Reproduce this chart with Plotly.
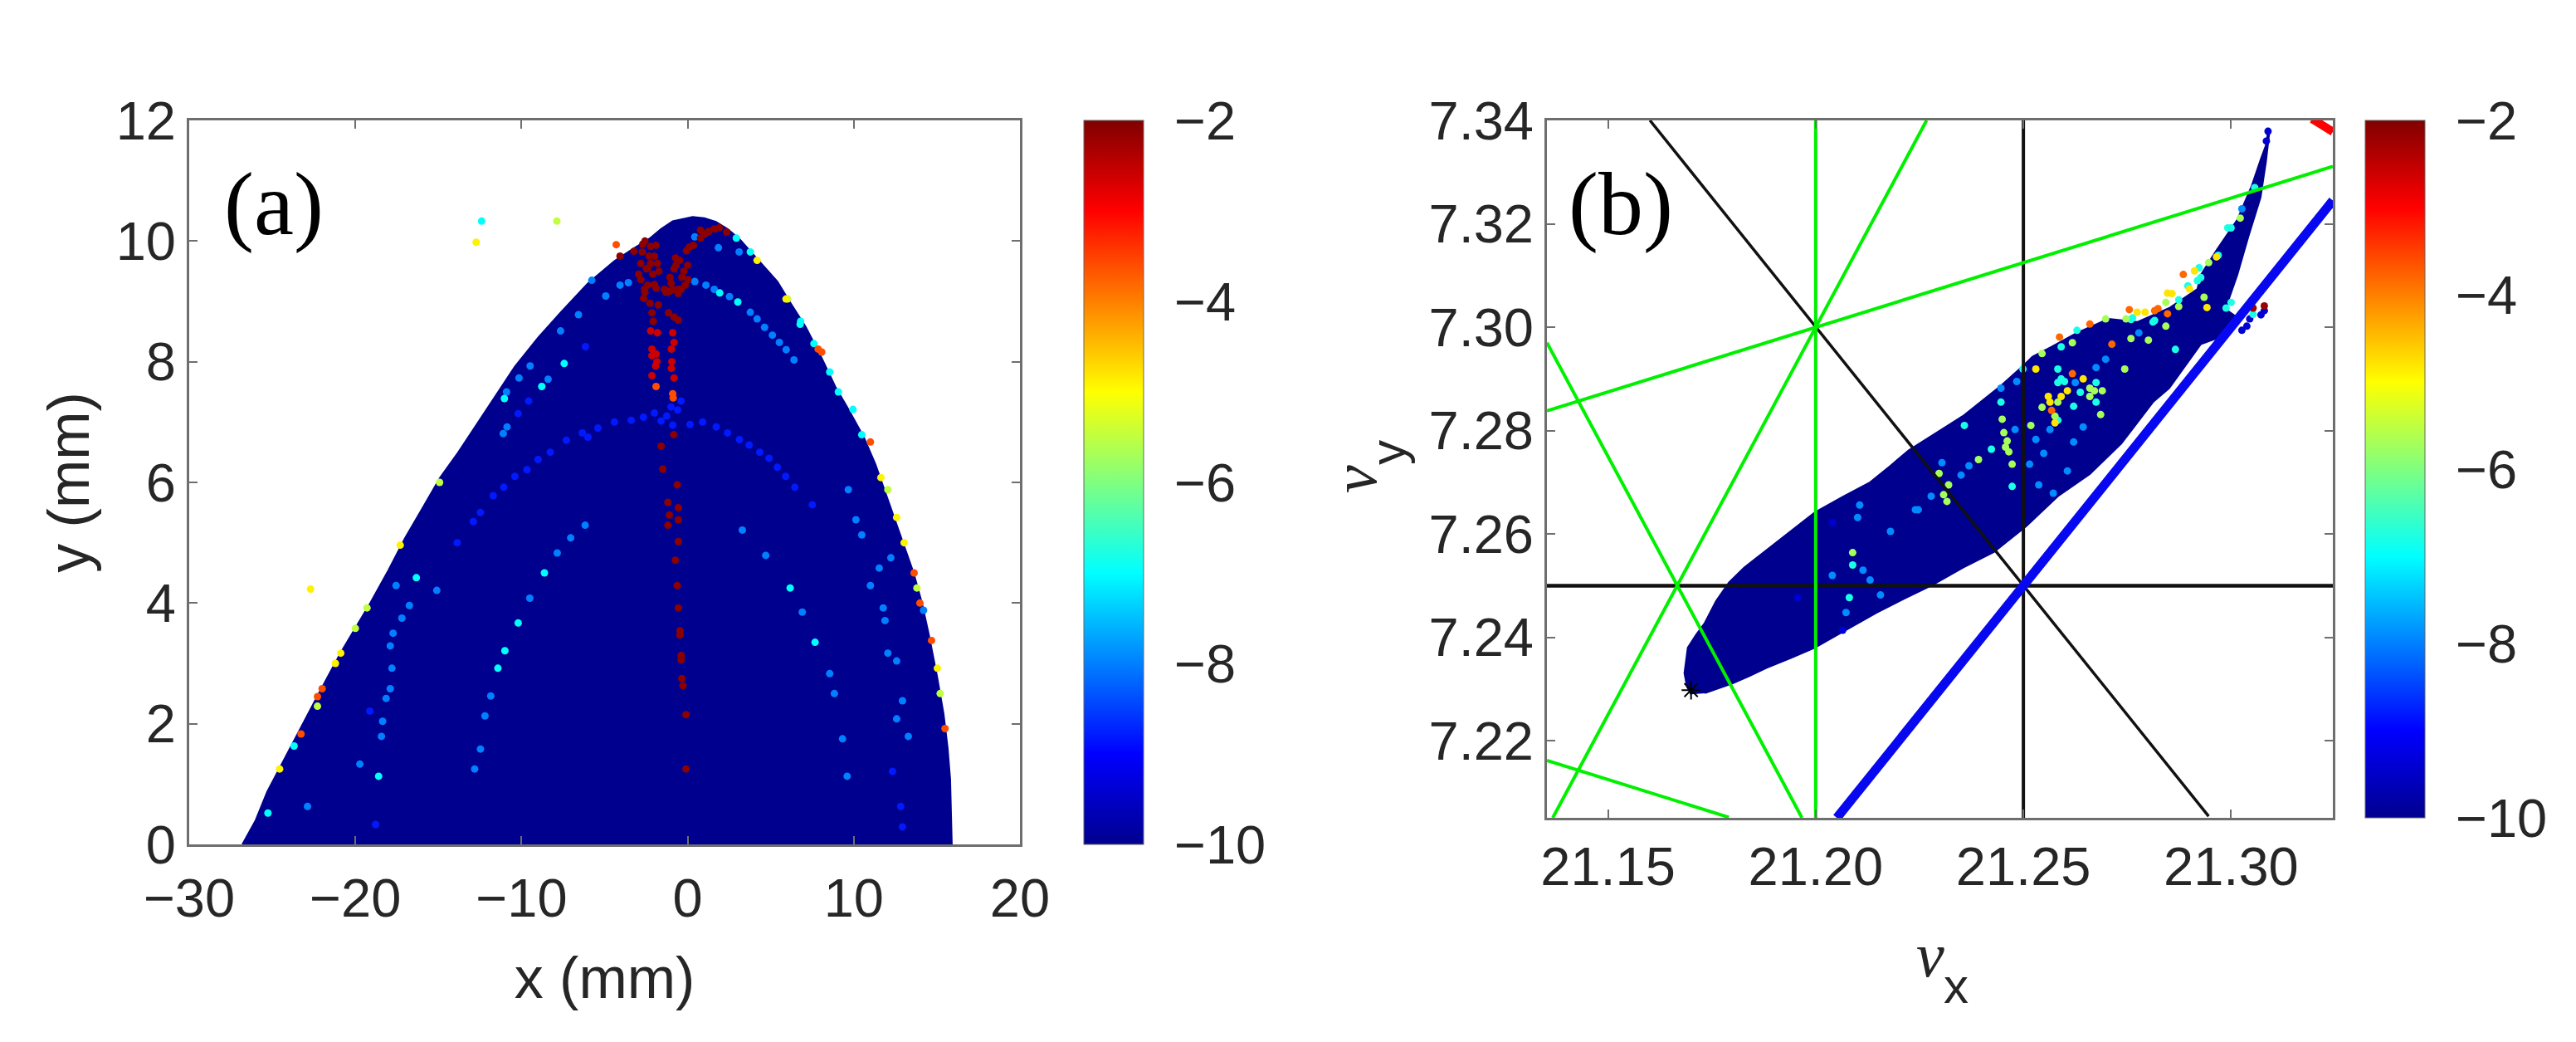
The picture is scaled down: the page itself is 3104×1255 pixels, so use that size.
import plotly.graph_objects as go

# ---- panel (a): outline of the dense dark-blue region (x mm, y mm)
a_outline_x = [-26.8,-26.0,-25.3,-24.4,-23.5,-22.2,-20.9,-20.0,-19.1,-18.0,-17.0,-15.9,-14.9,-13.8,-12.8,-11.6,-10.4,-9.0,-7.6,-6.0,-4.4,-3.3,-2.3,-1.6,-0.9,0.3,1.0,1.7,2.4,3.1,4.2,5.4,6.2,7.1,8.0,8.9,9.7,10.6,11.3,12.0,12.8,13.6,14.1,14.5,15.0,15.4,15.65,15.8,15.9,15.9,-26.9]
a_outline_y = [0,0.4,0.875,1.35,1.83,2.5,3.17,3.58,4.0,4.55,5.08,5.6,6.08,6.5,6.92,7.42,7.92,8.4,8.83,9.3,9.67,9.87,10.04,10.2,10.33,10.4,10.38,10.32,10.2,10.04,9.7,9.33,8.97,8.58,8.1,7.58,7.2,6.75,6.3,5.75,5.15,4.5,4.0,3.5,2.8,2.17,1.6,1.08,0,-0.05,-0.05]

# panel (a): points by colour level
a_dkred_v = -2.1
a_dkred_x = [-0.1,-0.1,-0.28,-0.35,-0.39,-0.39,-0.46,-0.46,-0.56,-0.63,-0.74,-0.56,-1.19,-0.56,-1.1,-0.56,-1.19,-0.63,-1.5,-1.6,-0.84,
             -2.57,-2.23,-1.9,-2.73,-2.32,-2.82,-2.23,-1.82,-1.73,-2.48,-2.82,-2.4,-1.9,-2.57,-1.07,-0.57,-0.15,0.02,-0.23,-0.48,-0.82,-1.07,-0.73,-0.07,0.35,0.77,1.27,1.6,2.35,0.77,-3.23,-4.07,
             -2.07,-2.15,-2.27,-1.77,-1.15,-0.82,-0.57,-2.6,-2.1,-1.4,-0.9,-0.4,0.0,-2.7,-2.0,-1.0,-2.95,-2.4,-2.0,-2.65,-1.3,-0.7,-0.35,-0.55,0.1,1.05,1.9]
a_dkred_y = [1.25,2.15,2.63,2.75,3.13,3.06,3.54,3.47,3.92,4.29,4.71,5.02,5.29,5.38,5.46,5.58,5.67,5.96,6.22,6.6,6.79,
             10.0,9.91,9.93,9.82,9.75,9.63,9.63,9.63,9.5,9.54,9.36,9.27,9.22,9.15,9.17,9.13,9.27,9.36,9.5,9.68,9.54,9.4,9.72,9.84,9.93,10.05,10.16,10.2,10.15,10.18,9.83,9.75,
             8.67,8.81,8.97,8.94,8.81,8.74,8.69,9.2,9.45,9.2,9.2,9.2,9.6,9.95,9.28,9.3,9.45,9.55,9.75,9.05,9.15,9.6,9.4,9.2,9.9,10.12,10.22]
a_red_v = -2.6
a_red_x = [-2.23,-1.82,-0.9,-0.82,-2.15,-1.9,-2.15,-0.98,-1.93,-0.98,-0.82,-2.15,-1.85,-0.95]
a_red_y = [8.51,8.48,8.48,8.32,8.21,8.13,8.1,8.21,7.93,7.89,7.73,7.77,8.0,8.0]
a_orange_v = -3.6
a_orange_x = [-1.9,-0.9,-0.87,-4.3,8.07,7.85,11.0,13.63,13.98,14.68,15.49,-23.27,-22.0,-22.28]
a_orange_y = [7.59,7.47,7.4,9.94,8.16,8.21,6.67,4.5,4.0,3.38,1.92,1.83,2.58,2.45]
a_yellow_v = -4.9
a_yellow_x = [-12.73,-22.7,4.18,5.92,11.63,12.58,13.03,15.03,-24.56,-20.88,-17.3,-21.2]
a_yellow_y = [9.98,4.23,9.68,9.04,6.08,5.42,5.0,2.92,1.25,3.17,4.96,3.0]
a_green_v = -5.5
a_green_x = [-7.87,6.02,12.05,13.8,15.2,-22.28,-20.0,-14.93,-19.3]
a_green_y = [10.33,9.04,5.88,4.25,2.5,2.29,3.58,6.0,3.92]
a_cyan_v = -7.0
a_cyan_x = [-12.4,3.77,2.93,6.8,6.77,7.6,8.55,9.07,9.95,10.48,-23.69,-16.33,-18.6,-7.43,-8.78,-11.03,-11.42,-10.2,-11.0,-8.62,6.17,7.67,3.02,1.93,-25.26]
a_cyan_y = [10.33,9.82,10.05,8.67,8.62,8.3,7.83,7.5,7.21,6.79,1.63,4.42,1.13,7.97,7.59,7.39,2.92,3.67,3.21,4.5,4.25,3.35,8.99,9.14,0.52]
a_blue_v = -8.0
a_blue_x = [-4.07,-3.57,0.43,1.1,1.6,2.52,3.77,4.18,4.63,5.1,5.52,5.93,6.4,-6.57,-7.65,-4.93,-5.77,-8.4,-9.48,-10.15,-10.9,-10.87,-11.1,1.85,3.1,0.43,
            -12.82,-12.47,-12.2,-11.85,-9.5,-7.85,-7.04,-6.17,3.29,4.7,6.9,8.55,8.83,9.32,9.6,
            -15.1,-17.55,-16.75,-17.2,-17.73,-17.9,-17.8,-17.9,-18.15,-18.36,-18.43,-22.88,-19.73,
            11.0,11.53,12.23,11.77,11.88,12.05,12.58,12.93,12.58,13.28,14.2,10.13,10.48,9.67]
a_blue_y = [9.27,9.31,9.33,9.27,9.2,9.08,8.82,8.71,8.57,8.44,8.32,8.2,8.03,8.78,8.51,9.09,9.35,7.71,7.93,7.73,7.5,6.92,6.81,9.89,9.82,10.07,
            1.25,1.58,2.13,2.46,4.08,4.83,5.08,5.29,5.21,4.79,3.85,2.83,2.5,1.75,1.13,
            4.21,4.29,3.96,3.75,3.5,3.29,2.92,2.58,2.42,2.04,1.79,0.63,1.33,
            4.29,4.58,4.75,3.92,3.71,3.17,3.04,2.38,2.08,1.79,3.88,5.38,5.13,5.88]
a_dim_v = -8.8
a_dim_x = [-6.15,-9.57,-10.2,-13.87,-12.47,-11.07,-9.67,-8.27,-6.34,-4.41,-2.66,-1.26,0.14,1.72,3.12,4.34,5.4,6.45,7.5,-12.9,-11.7,-10.4,-9.0,-7.3,-5.4,-3.4,-2.0,-0.6,0.9,2.4,3.7,4.9,5.9,-19.13,-18.78,12.33,12.82,12.93,-6.0,-1.0,-0.4,-1.6,-0.9]
a_dim_y = [8.25,7.35,7.14,5.0,5.5,5.92,6.21,6.5,6.82,7.0,7.08,7.1,6.96,6.92,6.71,6.5,6.25,5.92,5.63,5.35,5.78,6.1,6.38,6.7,6.9,7.03,7.15,7.2,7.0,6.82,6.62,6.4,6.1,2.21,0.33,1.21,0.63,0.29,6.75,7.25,7.35,7.02,6.95]

# ---- panel (b): outline of the dense dark-blue region (nu_x, nu_y)
b_outline_x = [21.1700,21.1690,21.1684,21.1688,21.1692,21.1712,21.1733,21.1760,21.1791,21.1828,21.1866,21.1932,21.1998,21.2065,21.2131,21.2180,21.2224,21.2354,21.2446,21.2499,21.2522,21.2568,21.2629,21.2705,21.2774,21.2851,21.2919,21.2927,21.2965,21.3015,21.3049,21.3072,21.3084,21.3089,21.3092,21.3084,21.3071,21.3042,21.3015,21.2992,21.2988,21.3011,21.2965,21.2927,21.2904,21.2851,21.2812,21.2736,21.2660,21.2583,21.2507,21.2468,21.2429,21.2355,21.2280,21.2213,21.2147,21.2070,21.1998,21.1940,21.1882,21.1840,21.1800,21.1733]
b_outline_y = [7.2290,7.2305,7.2331,7.2355,7.2380,7.2405,7.2428,7.2470,7.2506,7.2535,7.2559,7.2600,7.2642,7.2672,7.2700,7.2732,7.2762,7.2828,7.2887,7.2925,7.2943,7.2962,7.2989,7.3016,7.3010,7.3037,7.3074,7.3101,7.3149,7.3208,7.3272,7.3326,7.3352,7.3379,7.3376,7.3320,7.3251,7.3176,7.3101,7.3048,7.3034,7.3021,7.2978,7.2967,7.2941,7.2882,7.2855,7.2775,7.2716,7.2673,7.2615,7.2590,7.2565,7.2535,7.2501,7.2475,7.2448,7.2413,7.2380,7.2360,7.2341,7.2325,7.2311,7.2292]

# panel (b): points by colour level
b_dkred_v = -2.2
b_dkred_x = [21.3080,21.3053]
b_dkred_y = [7.3041,7.3037]
b_orange_v = -3.8
b_orange_x = [21.2885,21.2824,21.2816,21.2847,21.2755,21.2660,21.2587,21.2713,21.2618,21.2568]
b_orange_y = [7.3102,7.3036,7.3032,7.3026,7.3034,7.3006,7.2981,7.2967,7.2910,7.2839]
b_yellow_v = -4.8
b_yellow_x = [21.2912,21.2965,21.2900,21.2847,21.2858,21.2774,21.2793,21.2530,21.2644,21.2606,21.2564,21.2576,21.2942,21.2591,21.2560]
b_yellow_y = [7.3109,7.3136,7.3074,7.3066,7.3065,7.3029,7.3029,7.2919,7.2900,7.2877,7.2855,7.2815,7.3038,7.2866,7.2866]
b_green_v = -5.7
b_green_x = [21.2946,21.2935,21.2843,21.2874,21.2747,21.2698,21.2618,21.2545,21.2801,21.2759,21.3022,21.2583,21.2686,21.2671,21.2660,21.2690,21.2453,21.2461,21.2465,21.2473,21.2392,21.2297,21.2308,21.2316,21.2320,21.2518,21.2843,21.2744,21.2545,21.2089,21.2576,21.2660,21.2449,21.2457]
b_green_y = [7.3125,7.3058,7.3048,7.3040,7.3016,7.3016,7.2970,7.2949,7.2975,7.2978,7.3211,7.2855,7.2831,7.2877,7.2866,7.2877,7.2796,7.2780,7.2759,7.2735,7.2744,7.2717,7.2676,7.2663,7.2695,7.2810,7.3002,7.2919,7.2845,7.2564,7.2828,7.2882,7.2822,7.2768]
b_cyan_v = -6.8
b_cyan_x = [21.2923,21.2927,21.2992,21.3057,21.2763,21.2629,21.2591,21.2499,21.2816,21.2866,21.2583,21.2591,21.2621,21.2675,21.2637,21.2583,21.2446,21.2358,21.2423,21.3000,21.2988,21.2089,21.2081,21.2473,21.3053,21.2583,21.2599,21.2675,21.3000,21.2969,21.2919,21.2896,21.2874,21.2812,21.2759]
b_cyan_y = [7.3115,7.3096,7.3192,7.3270,7.3018,7.2994,7.2962,7.2919,7.3013,7.2957,7.2919,7.2900,7.2847,7.2855,7.2874,7.2820,7.2855,7.2810,7.2764,7.3048,7.3037,7.2540,7.2477,7.2692,7.3025,7.2893,7.2895,7.2893,7.3192,7.3139,7.3090,7.3080,7.3053,7.3010,7.3015]
b_blue_v = -7.9
b_blue_x = [21.3026,21.2778,21.2698,21.2675,21.2625,21.2644,21.2621,21.2564,21.2530,21.2446,21.2484,21.2480,21.2369,21.2350,21.2304,21.2278,21.2240,21.2515,21.2549,21.2572,21.2537,21.2606,21.2106,21.2101,21.2180,21.2247,21.2040,21.2114,21.2131,21.2156,21.2073]
b_blue_y = [7.3229,7.2989,7.2938,7.2922,7.2893,7.2807,7.2778,7.2802,7.2783,7.2882,7.2895,7.2802,7.2732,7.2714,7.2738,7.2673,7.2647,7.2735,7.2756,7.2679,7.2695,7.2722,7.2656,7.2632,7.2605,7.2647,7.2520,7.2530,7.2511,7.2482,7.2448]
b_dark_v = -9.4
b_dark_x = [21.3026,21.3038,21.3045,21.3072,21.3080,21.3089,21.3085,21.2065,21.2040,21.1957]
b_dark_y = [7.2994,7.3002,7.3016,7.3024,7.3032,7.3379,7.3360,7.2414,7.2622,7.2477]

# ---- panel (b): resonance lines and the working point (nu_x, nu_y)
black_lines = [([21.25,21.25],[7.2051,7.34],4), ([21.1353,21.3245],[7.25,7.25],4.5), ([21.1601,21.2946],[7.34,7.2054],3.5)]
green_lines = [([21.2,21.2],[7.2051,7.34]), ([21.1367,21.2267],[7.2051,7.34]), ([21.1353,21.1967],[7.297,7.2051]),
               ([21.1353,21.3245],[7.2838,7.3311]), ([21.1353,21.1791],[7.2162,7.2052])]
blue_line_x = [21.2051,21.3245]
blue_line_y = [7.2051,7.3245]
red_line_x = [21.3195,21.3245]
red_line_y = [7.3403,7.3378]
star_x = [21.170]
star_y = [7.2298]

# ---- tick labels
a_xticks = [-30,-20,-10,0,10,20]
a_yticks = [0,2,4,6,8,10,12]
b_xticks = [21.15,21.20,21.25,21.30]
b_yticks = [7.22,7.24,7.26,7.28,7.30,7.32,7.34]
cb_ticks = [-10,-8,-6,-4,-2]

# the page has an 8 px body margin, so the figure itself is 16 px smaller
PAGE = 8
W, H = 3104 - 2*PAGE, 1255 - 2*PAGE
def fx(p): return (p - PAGE)/W
def fy(p): return 1 - (p - PAGE)/H

TXT = "#262626"
AX = "#6e6e6e"
SANS = "Liberation Sans"
SERIF = "Liberation Serif"
DARK = "#00008f"
JET = [[0,"rgb(0,0,143)"],[0.125,"rgb(0,0,255)"],[0.375,"rgb(0,255,255)"],[0.625,"rgb(255,255,0)"],[0.875,"rgb(255,0,0)"],[1,"rgb(128,0,0)"]]

def gather(groups):
    xs, ys, vs = [], [], []
    for x, y, v in groups:
        xs += x; ys += y; vs += [v]*len(x)
    return xs, ys, vs

fig = go.Figure()

# panel a
fig.add_trace(go.Scatter(x=a_outline_x, y=a_outline_y, mode="lines", fill="toself", fillcolor=DARK,
                         line=dict(color=DARK, width=2), cliponaxis=False, xaxis="x", yaxis="y", hoverinfo="skip"))
ax_, ay_, av_ = gather([(a_dim_x,a_dim_y,a_dim_v),(a_blue_x,a_blue_y,a_blue_v),(a_cyan_x,a_cyan_y,a_cyan_v),(a_green_x,a_green_y,a_green_v),
                        (a_yellow_x,a_yellow_y,a_yellow_v),(a_orange_x,a_orange_y,a_orange_v),(a_red_x,a_red_y,a_red_v),(a_dkred_x,a_dkred_y,a_dkred_v)])
fig.add_trace(go.Scatter(x=ax_, y=ay_, mode="markers", xaxis="x", yaxis="y",
                         marker=dict(size=9, color=av_, coloraxis="coloraxis", line=dict(width=0))))

# panel b
fig.add_trace(go.Scatter(x=b_outline_x, y=b_outline_y, mode="lines", fill="toself", fillcolor=DARK,
                         line=dict(color=DARK, width=2), xaxis="x2", yaxis="y2", hoverinfo="skip"))
bx_, by_, bv_ = gather([(b_dark_x,b_dark_y,b_dark_v),(b_blue_x,b_blue_y,b_blue_v),(b_cyan_x,b_cyan_y,b_cyan_v),(b_green_x,b_green_y,b_green_v),
                        (b_yellow_x,b_yellow_y,b_yellow_v),(b_orange_x,b_orange_y,b_orange_v),(b_dkred_x,b_dkred_y,b_dkred_v)])
fig.add_trace(go.Scatter(x=bx_, y=by_, mode="markers", xaxis="x2", yaxis="y2",
                         marker=dict(size=9, color=bv_, coloraxis="coloraxis2", line=dict(width=0))))
for lx, ly, lw in black_lines:
    fig.add_trace(go.Scatter(x=lx, y=ly, mode="lines", line=dict(color="#111111", width=lw), xaxis="x2", yaxis="y2"))
for lx, ly in green_lines:
    fig.add_trace(go.Scatter(x=lx, y=ly, mode="lines", line=dict(color="#00f000", width=4), xaxis="x2", yaxis="y2"))
fig.add_trace(go.Scatter(x=blue_line_x, y=blue_line_y, mode="lines", line=dict(color="#0808f0", width=11), xaxis="x2", yaxis="y2"))
fig.add_trace(go.Scatter(x=red_line_x, y=red_line_y, mode="lines", line=dict(color="#ff0000", width=10), xaxis="x2", yaxis="y2", cliponaxis=False))
fig.add_trace(go.Scatter(x=star_x, y=star_y, mode="markers", xaxis="x2", yaxis="y2",
                         marker=dict(symbol="asterisk-open", size=19, color="black", line=dict(color="black", width=2))))

def axis(**kw):
    d = dict(showgrid=False, zeroline=False, showline=True, linecolor=AX, linewidth=3, mirror="ticks", ticks="inside",
             ticklen=10, tickwidth=2, tickcolor=AX, tickfont=dict(family=SANS, size=65, color=TXT), automargin=False)
    d.update(kw)
    return d

def cbar(x, top, bottom):
    return dict(x=fx(x), xanchor="left", xref="paper", y=fy(top), yanchor="top", yref="paper", len=(bottom-top)/H, lenmode="fraction",
                thickness=72, thicknessmode="pixels", tickvals=cb_ticks, ticks="outside", ticklen=24, tickcolor="rgba(0,0,0,0)",
                tickfont=dict(family=SANS, size=65, color=TXT), outlinecolor="#666666", outlinewidth=1, xpad=0, ypad=0)

fig.update_layout(
    width=W, height=H, autosize=False, showlegend=False, paper_bgcolor="white", plot_bgcolor="white",
    margin=dict(l=0, r=0, t=0, b=0),
    xaxis=axis(domain=[fx(228),fx(1229)], range=[-30,20], tickvals=a_xticks, anchor="y", ticklabelstandoff=6,
               title=dict(text="x (mm)", font=dict(family=SANS, size=70, color=TXT), standoff=36)),
    yaxis=axis(domain=[fy(1017),fy(145)], range=[0,12], tickvals=a_yticks, anchor="x",
               title=dict(text="y (mm)", font=dict(family=SANS, size=70, color=TXT), standoff=10)),
    xaxis2=axis(domain=[fx(1864),fx(2811)], range=[21.1353,21.3245], tickvals=b_xticks, tickformat=".2f", anchor="y2"),
    yaxis2=axis(domain=[fy(985),fy(145)], range=[7.2051,7.34], tickvals=b_yticks, tickformat=".2f", anchor="x2"),
    coloraxis=dict(cmin=-10, cmax=-2, colorscale=JET, colorbar=cbar(1306,145,1017)),
    coloraxis2=dict(cmin=-10, cmax=-2, colorscale=JET, colorbar=cbar(2850,145,985)),
    annotations=[
        dict(text="(a)", xref="paper", yref="paper", x=fx(268), y=fy(246), xanchor="left", yanchor="middle", showarrow=False,
             font=dict(family=SERIF, size=108, color="black")),
        dict(text="(b)", xref="paper", yref="paper", x=fx(1888), y=fy(246), xanchor="left", yanchor="middle", showarrow=False,
             font=dict(family=SERIF, size=108, color="black")),
        dict(text="<i>ν</i>", xref="paper", yref="paper", x=fx(2326), y=fy(1150), xanchor="center", yanchor="middle", showarrow=False,
             font=dict(family=SERIF, size=76, color=TXT)),
        dict(text="x", xref="paper", yref="paper", x=fx(2357), y=fy(1187), xanchor="center", yanchor="middle", showarrow=False,
             font=dict(family=SANS, size=60, color=TXT)),
        dict(text="<i>ν</i>", xref="paper", yref="paper", x=fx(1632), y=fy(577), xanchor="center", yanchor="middle", showarrow=False, textangle=-90,
             font=dict(family=SERIF, size=76, color=TXT)),
        dict(text="y", xref="paper", yref="paper", x=fx(1672), y=fy(545), xanchor="center", yanchor="middle", showarrow=False, textangle=-90,
             font=dict(family=SANS, size=60, color=TXT)),
    ],
)

fig.write_html("out.html")
